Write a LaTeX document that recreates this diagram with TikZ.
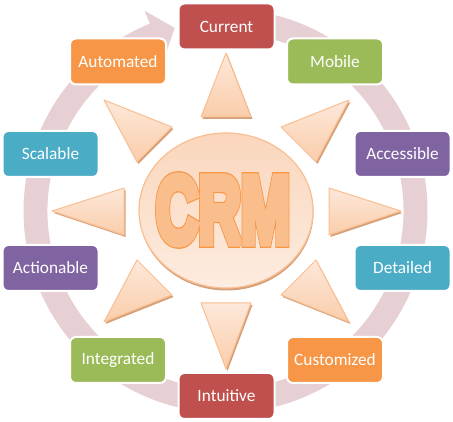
\documentclass[tikz,border=0pt]{standalone}
\usepackage{fontspec}
\newfontfamily\lab{Carlito}
\newfontfamily\crmfont{Liberation Sans}
\definecolor{ringc}{RGB}{231,208,211}
\definecolor{cred}{RGB}{192,80,77}
\definecolor{cgreen}{RGB}{155,187,89}
\definecolor{cpurple}{RGB}{128,100,162}
\definecolor{cblue}{RGB}{75,172,198}
\definecolor{corange}{RGB}{247,150,70}
\definecolor{trilight}{RGB}{253,232,218}
\definecolor{tridark}{RGB}{250,205,170}
\definecolor{triedge}{RGB}{249,190,145}
\definecolor{trishadow}{RGB}{214,160,120}
\definecolor{elllight}{RGB}{253,236,224}
\definecolor{elldark}{RGB}{250,214,188}
\definecolor{crmfill}{RGB}{250,190,140}
\begin{document}
\begin{tikzpicture}[x=1pt,y=1pt,
  lbl/.style={rounded corners=6pt, minimum width=96pt, minimum height=46pt,
    draw=white, line width=2pt, text=white, inner sep=0pt,
    font=\lab\fontsize{17.3}{19}\selectfont},
  tri/.style={draw=triedge, line width=1pt, top color=trilight, bottom color=tridark, line join=round},
  trish/.style={fill=trishadow},
  crmtext/.style={text=crmfill, font=\crmfont\bfseries\fontsize{95}{95}\selectfont, xscale=0.62, inner sep=0pt}]
\useasboundingbox (0,0) rectangle (453,422);
% ring with arrow
\begin{scope}[shift={(225.5,211)}]
\fill[ringc] (88:202) arc[start angle=88, end angle=-248, radius=202]
  -- (112:216) -- (105.5:190) -- (112:164) -- (112:178)
  arc[start angle=-248, end angle=88, radius=178] -- cycle;
\end{scope}
% triangles: shadows then shapes
\foreach \a/\b/\c in {
  {(226,369)}/{(201,305)}/{(251,305)},
  {(226,53)}/{(201,119)}/{(251,119)},
  {(52,211)}/{(124,234)}/{(124,187)},
  {(401,211)}/{(329,234)}/{(329,187)},
  {(104,322)}/{(172,295)}/{(137,260)},
  {(349,322)}/{(281,295)}/{(316,260)},
  {(104,100)}/{(172,127)}/{(137,162)},
  {(349,100)}/{(281,127)}/{(316,162)}}{
  \fill[trish, shift={(1.5,-2)}] \a -- \b -- \c -- cycle;
  \draw[tri] \a -- \b -- \c -- cycle;
}
% central ellipse
\fill[trishadow] (226.5,209.5) ellipse[x radius=87, y radius=78];
\draw[draw=triedge, line width=1.2pt, left color=elldark, right color=elllight, shading angle=0]
  (226,211.5) ellipse[x radius=87, y radius=77.5];
\node[crmtext] (crmout) at (223,212)
  {\special{pdf:literal direct 2 Tr 0 j 2 M 10.5 w 0.97 0.59 0.27 RG}CRM\special{pdf:literal direct 0 Tr 10 M 0.4 w}};
\node[crmtext] (crm) at (223,212)
  {\special{pdf:literal direct 2 Tr 0 j 2 M 8 w 0.98 0.745 0.55 RG}CRM\special{pdf:literal direct 0 Tr 10 M 0.4 w}};
% labels
\node[lbl, fill=cred]    (current)    at (226.5,395.5) {Current};
\node[lbl, fill=cgreen]  (mobile)     at (335,360.5)   {Mobile};
\node[lbl, fill=cpurple] (accessible) at (402.5,268)   {Accessible};
\node[lbl, fill=cblue]   (detailed)   at (402.5,154)   {Detailed};
\node[lbl, fill=corange] (customized) at (335,62)      {Customized};
\node[lbl, fill=cred]    (intuitive)  at (226.5,26)    {Intuitive};
\node[lbl, fill=cgreen]  (integrated) at (118,62)      {Integrated};
\node[lbl, fill=cpurple] (actionable) at (50.5,154)    {Actionable};
\node[lbl, fill=cblue]   (scalable)   at (50.5,268)    {Scalable};
\node[lbl, fill=corange] (automated)  at (118,360.5)   {Automated};
\end{tikzpicture}
\end{document}
